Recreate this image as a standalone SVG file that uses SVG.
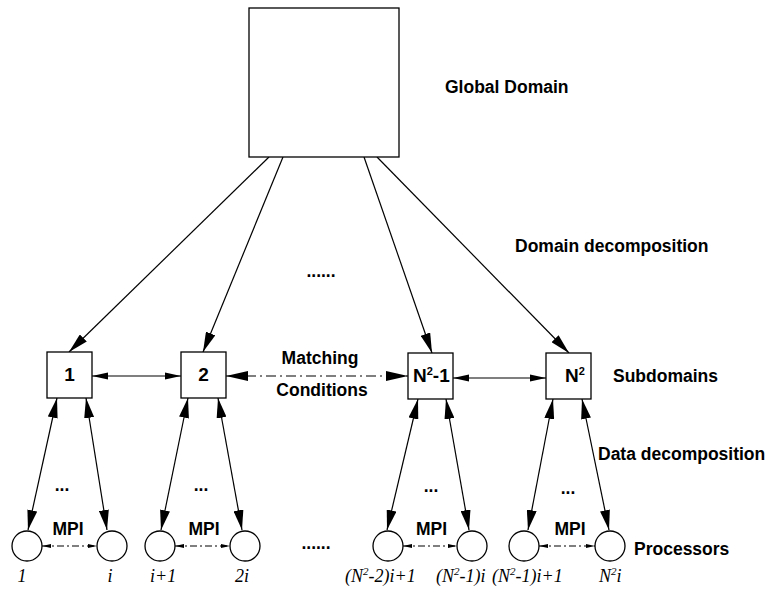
<svg xmlns="http://www.w3.org/2000/svg" width="768" height="593" viewBox="0 0 768 593">
<defs>
<style>
.box{fill:#fff;stroke:#000;stroke-width:1.3}
.proc{fill:#fff;stroke:#000;stroke-width:1.3}
.ln{fill:none;stroke:#000;stroke-width:1.2}
.dd{fill:none;stroke:#000;stroke-width:1.2;stroke-dasharray:10 4 2 4}
.ds{fill:none;stroke:#000;stroke-width:1.2;stroke-dasharray:7 3 2 3}
.lab{font-family:"Liberation Sans",Arial,sans-serif;font-weight:bold;font-size:17.5px;fill:#000}
.num{font-family:"Liberation Sans",Arial,sans-serif;font-weight:bold;font-size:19px;fill:#000}
.it{font-family:"Liberation Serif","Times New Roman",serif;font-style:italic;font-size:18px;fill:#000}
</style>
<marker id="big" viewBox="0 0 20 10" refX="20" refY="5" markerWidth="20" markerHeight="10" markerUnits="userSpaceOnUse" orient="auto-start-reverse"><path d="M0,0 L20,5 L0,10 z" fill="#000"/></marker>
<marker id="mid" viewBox="0 0 16 8" refX="16" refY="4" markerWidth="16" markerHeight="8" markerUnits="userSpaceOnUse" orient="auto-start-reverse"><path d="M0,0.5 L16,4 L0,7.5 z" fill="#000"/></marker>
<marker id="wide" viewBox="0 0 22 10" refX="22" refY="5" markerWidth="22" markerHeight="10" markerUnits="userSpaceOnUse" orient="auto-start-reverse"><path d="M0,0 L22,5 L0,10 z" fill="#000"/></marker>
<marker id="small" viewBox="0 0 9 5" refX="9" refY="2.5" markerWidth="9" markerHeight="5" markerUnits="userSpaceOnUse" orient="auto-start-reverse"><path d="M0,0.5 L9,2.5 L0,4.5 z" fill="#000"/></marker>
</defs>

<g id="connectors">
<line class="ln" x1="269" y1="157" x2="69" y2="352" marker-end="url(#big)"/>
<line class="ln" x1="283" y1="157" x2="203" y2="352" marker-end="url(#big)"/>
<line class="ln" x1="364" y1="157" x2="432" y2="353" marker-end="url(#big)"/>
<line class="ln" x1="377" y1="157" x2="569" y2="353" marker-end="url(#big)"/>

<line class="ln" x1="92" y1="376" x2="181" y2="376" marker-start="url(#mid)" marker-end="url(#mid)"/>
<line class="dd" x1="226" y1="376" x2="408" y2="376" marker-start="url(#wide)" marker-end="url(#wide)"/>
<line class="ln" x1="453" y1="378" x2="546" y2="378" marker-start="url(#mid)" marker-end="url(#mid)"/>

<line class="ln" x1="57" y1="398" x2="28" y2="530" marker-start="url(#big)" marker-end="url(#big)"/>
<line class="ln" x1="86" y1="398" x2="107" y2="530" marker-start="url(#big)" marker-end="url(#big)"/>
<line class="ln" x1="188" y1="398" x2="161" y2="530" marker-start="url(#big)" marker-end="url(#big)"/>
<line class="ln" x1="218" y1="398" x2="242" y2="530" marker-start="url(#big)" marker-end="url(#big)"/>
<line class="ln" x1="418" y1="399" x2="387" y2="530" marker-start="url(#big)" marker-end="url(#big)"/>
<line class="ln" x1="446" y1="399" x2="469" y2="530" marker-start="url(#big)" marker-end="url(#big)"/>
<line class="ln" x1="553" y1="399" x2="528" y2="530" marker-start="url(#big)" marker-end="url(#big)"/>
<line class="ln" x1="582" y1="399" x2="609" y2="530" marker-start="url(#big)" marker-end="url(#big)"/>

<line class="ds" x1="42" y1="546" x2="97" y2="546" marker-start="url(#small)" marker-end="url(#small)"/>
<line class="ds" x1="175" y1="546" x2="230" y2="546" marker-start="url(#small)" marker-end="url(#small)"/>
<line class="ds" x1="403" y1="546" x2="457" y2="546" marker-start="url(#small)" marker-end="url(#small)"/>
<line class="ds" x1="539" y1="546" x2="595" y2="546" marker-start="url(#small)" marker-end="url(#small)"/>
</g>

<g id="global">
<rect class="box" x="249" y="8" width="150" height="149"/>
</g>

<g id="sub1">
<rect class="box" x="47" y="352" width="45" height="46"/>
<text class="num" x="69.5" y="381" text-anchor="middle">1</text>
</g>
<g id="sub2">
<rect class="box" x="181" y="352" width="45" height="46"/>
<text class="num" x="203.5" y="381" text-anchor="middle">2</text>
</g>
<g id="subN2m1">
<rect class="box" x="408" y="353" width="45" height="46"/>
<text class="num" x="413" y="382">N<tspan font-size="11" dy="-7">2</tspan><tspan dy="7">-1</tspan></text>
</g>
<g id="subN2">
<rect class="box" x="546" y="353" width="45" height="46"/>
<text class="num" x="565" y="382">N<tspan font-size="11" dy="-7">2</tspan></text>
</g>

<g id="p1"><circle class="proc" cx="27" cy="546" r="15"/><text class="it" x="22" y="582" text-anchor="middle">1</text></g>
<g id="pi"><circle class="proc" cx="112" cy="546" r="15"/><text class="it" x="110" y="582" text-anchor="middle">i</text></g>
<g id="pi1"><circle class="proc" cx="160" cy="546" r="15"/><text class="it" x="150" y="582">i+1</text></g>
<g id="p2i"><circle class="proc" cx="245" cy="546" r="15"/><text class="it" x="235" y="582">2i</text></g>
<g id="pA"><circle class="proc" cx="388" cy="546" r="15"/><text class="it" x="345" y="582">(N<tspan font-size="11" dy="-7">2</tspan><tspan dy="7">-2)i+1</tspan></text></g>
<g id="pB"><circle class="proc" cx="472" cy="546" r="15"/><text class="it" x="436" y="582">(N<tspan font-size="11" dy="-7">2</tspan><tspan dy="7">-1)i</tspan></text></g>
<g id="pC"><circle class="proc" cx="524" cy="546" r="15"/><text class="it" x="492" y="582">(N<tspan font-size="11" dy="-7">2</tspan><tspan dy="7">-1)i+1</tspan></text></g>
<g id="pD"><circle class="proc" cx="610" cy="546" r="15"/><text class="it" x="599" y="582">N<tspan font-size="11" dy="-7">2</tspan><tspan dy="7">i</tspan></text></g>

<g id="labels">
<text class="lab" x="445" y="93">Global Domain</text>
<text class="lab" x="515" y="252">Domain decomposition</text>
<text class="lab" x="321" y="277" text-anchor="middle" font-size="18">......</text>
<text class="lab" x="320" y="364" text-anchor="middle">Matching</text>
<text class="lab" x="322" y="396" text-anchor="middle">Conditions</text>
<text class="lab" x="613" y="382">Subdomains</text>
<text class="lab" x="598" y="460">Data decomposition</text>
<text class="lab" x="634" y="555" font-size="18.5">Processors</text>
<text class="lab" x="62" y="491" text-anchor="middle" font-size="16">...</text>
<text class="lab" x="201" y="491" text-anchor="middle" font-size="16">...</text>
<text class="lab" x="431" y="492" text-anchor="middle" font-size="16">...</text>
<text class="lab" x="568" y="494" text-anchor="middle" font-size="16">...</text>
<text class="lab" x="68" y="535" text-anchor="middle" font-size="18">MPI</text>
<text class="lab" x="204" y="535" text-anchor="middle" font-size="18">MPI</text>
<text class="lab" x="431.5" y="535" text-anchor="middle" font-size="18">MPI</text>
<text class="lab" x="570" y="535" text-anchor="middle" font-size="18">MPI</text>
<text class="lab" x="316" y="549" text-anchor="middle" font-size="18">......</text>
</g>
</svg>
